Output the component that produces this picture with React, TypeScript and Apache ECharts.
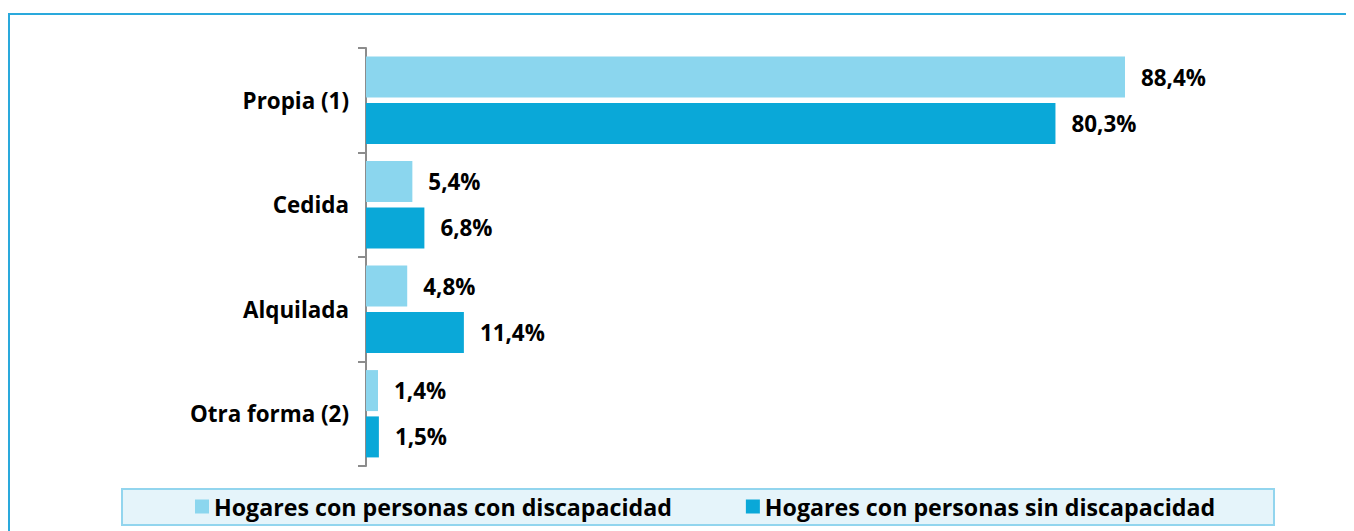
import React, { useEffect, useRef } from "react";
import * as echarts from "echarts";

const categories = ["Propia (1)", "Cedida", "Alquilada", "Otra forma (2)"];
const seriesNames = [
  "Hogares con personas con discapacidad",
  "Hogares con personas sin discapacidad",
];
const conDiscapacidad = [88.4, 5.4, 4.8, 1.4];
const sinDiscapacidad = [80.3, 6.8, 11.4, 1.5];

const FONT = "Open Sans";
const LIGHT = "#8bd6ee";
const DARK = "#0aa8d8";

const fmt = (v: number) => v.toFixed(1).replace(".", ",") + "%";

export default function App() {
  const ref = useRef<HTMLDivElement>(null);
  useEffect(() => {
    if (!ref.current) return;
    const chart = echarts.init(ref.current, undefined, { renderer: "svg" });
    const labelCfg = {
      show: true,
      position: "right",
      distance: 16,
      fontFamily: FONT,
      fontWeight: "bold",
      fontSize: 22.4,
      color: "#000",
      formatter: (p: any) => fmt(p.value),
    };
    chart.setOption({
      animation: false,
      textStyle: { fontFamily: FONT },
      grid: { left: 358, top: 40, width: 858.6, height: 418 },
      xAxis: {
        type: "value",
        min: 0,
        max: 100,
        show: false,
        splitLine: { show: false },
      },
      yAxis: {
        type: "category",
        data: categories,
        inverse: true,
        axisLine: { show: true, lineStyle: { color: "#8c8c8c", width: 2 } },
        axisTick: { show: true, length: 8, lineStyle: { color: "#8c8c8c", width: 2 } },
        axisLabel: {
          margin: 17,
          fontFamily: FONT,
          fontWeight: "bold",
          fontSize: 22.4,
          color: "#000",
        },
      },
      legend: {
        left: 182,
        top: 482,
        icon: "rect",
        itemWidth: 14,
        itemHeight: 14,
        itemGap: 74,
        textStyle: {
          fontFamily: FONT,
          fontWeight: "bold",
          fontSize: 23.2,
          lineHeight: 20,
          color: "#000",
        },
        data: seriesNames,
      },
      graphic: [
        {
          type: "rect",
          z: -10,
          shape: { x: 1, y: 6, width: 2000, height: 2000 },
          style: { fill: "none", stroke: "#2aa9dc", lineWidth: 2 },
        },
        {
          type: "rect",
          z: -5,
          shape: { x: 114, y: 481, width: 1152, height: 36 },
          style: { fill: "#e5f4fa", stroke: "#92d5ee", lineWidth: 2 },
        },
      ],
      series: [
        {
          name: seriesNames[0],
          type: "bar",
          data: conDiscapacidad,
          barWidth: 41,
          barGap: "13%",
          itemStyle: { color: LIGHT },
          label: labelCfg,
        },
        {
          name: seriesNames[1],
          type: "bar",
          data: sinDiscapacidad,
          barWidth: 41,
          barGap: "13%",
          itemStyle: { color: DARK },
          label: labelCfg,
        },
      ],
    });
    return () => chart.dispose();
  }, []);
  return <div ref={ref} style={{ width: 1346, height: 523 }} />;
}
